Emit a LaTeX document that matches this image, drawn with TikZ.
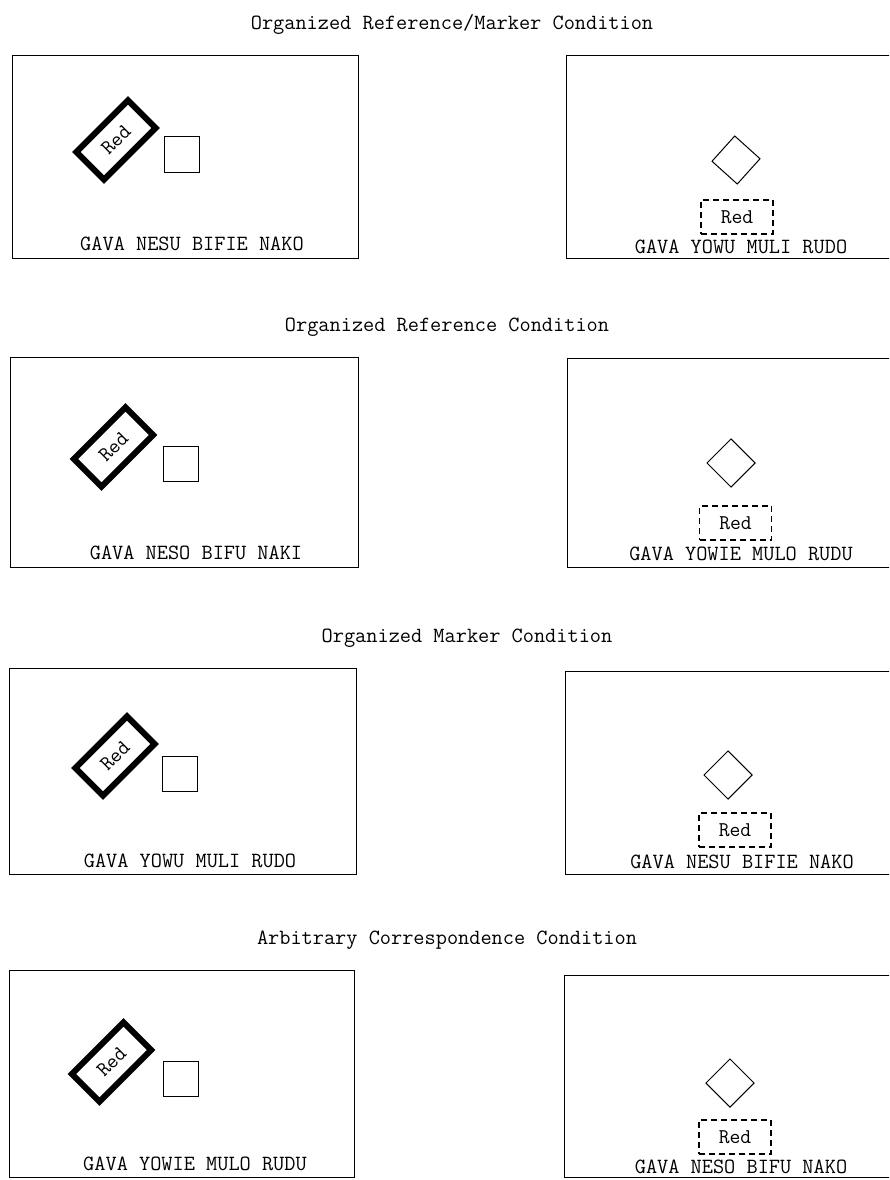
\documentclass[tikz,border=0pt]{standalone}
\begin{document}
\begin{tikzpicture}[x=1pt,y=-1pt,
  txt/.style={font=\fontsize{21.7}{26}\selectfont\ttfamily, inner sep=0pt},
  panel/.style={draw, line width=1.3pt, inner sep=0pt, anchor=north west},
  redrect/.style={draw, line width=6pt, minimum width=73pt, minimum height=39pt, inner sep=0pt, rotate=45, font=\fontsize{21}{24}\selectfont\ttfamily},
  sq/.style={draw, line width=1pt, minimum size=35pt, inner sep=0pt},
  dia/.style={draw, line width=1pt, minimum size=34pt, inner sep=0pt, rotate=45},
  dbox/.style={draw, dash pattern=on 6pt off 4pt, line width=1.2pt, minimum width=72pt, minimum height=34pt, inner sep=0pt, font=\fontsize{21}{24}\selectfont\ttfamily}]
\useasboundingbox (0,0) rectangle (889,1180);
\clip (0,0) rectangle (889,1180);
\fill[white] (0,0) rectangle (889,1180);

% Row 1
\node[txt] (t1) at (452,24) {Organized Reference/Marker Condition};
\node[panel, minimum width=346pt, minimum height=203pt] (p1l) at (12,55) {};
\node[panel, minimum width=329pt, minimum height=203pt] (p1r) at (566,55) {};
\node[redrect] (r1) at (116,140) {Red};
\node[sq] (s1) at (181.5,154.5) {};
\node[txt] (l1l) at (192,244) {GAVA NESU BIFIE NAKO};
\node[dia, rotate=3] (d1) at (736,160) {};
\node[dbox] (b1) at (737,217) {Red};
\node[txt] (l1r) at (741,247) {GAVA YOWU MULI RUDO};

% Row 2
\node[txt] (t2) at (447,327) {Organized Reference Condition};
\node[panel, minimum width=348pt, minimum height=210pt] (p2l) at (10,357) {};
\node[panel, minimum width=328pt, minimum height=209pt] (p2r) at (567,358) {};
\node[redrect] (r2) at (113.5,447) {Red};
\node[sq] (s2) at (180.5,464) {};
\node[txt] (l2l) at (196,553) {GAVA NESO BIFU NAKI};
\node[dia] (d2) at (731,463) {};
\node[dbox] (b2) at (735.5,523) {Red};
\node[txt] (l2r) at (741,554) {GAVA YOWIE MULO RUDU};

% Row 3
\node[txt] (t3) at (467,638) {Organized Marker Condition};
\node[panel, minimum width=347pt, minimum height=206pt] (p3l) at (9,668) {};
\node[panel, minimum width=330pt, minimum height=203pt] (p3r) at (565,671) {};
\node[redrect] (r3) at (115,756) {Red};
\node[sq] (s3) at (179.5,774) {};
\node[txt] (l3l) at (190,861) {GAVA YOWU MULI RUDO};
\node[dia] (d3) at (728,775) {};
\node[dbox] (b3) at (735,830) {Red};
\node[txt] (l3r) at (742,862) {GAVA NESU BIFIE NAKO};

% Row 4
\node[txt] (t4) at (447,940) {Arbitrary Correspondence Condition};
\node[panel, minimum width=345pt, minimum height=207pt] (p4l) at (9,970) {};
\node[panel, minimum width=331pt, minimum height=202pt] (p4r) at (564,975) {};
\node[redrect] (r4) at (111.5,1062) {Red};
\node[sq] (s4) at (180.5,1079) {};
\node[txt] (l4l) at (195,1164) {GAVA YOWIE MULO RUDU};
\node[dia] (d4) at (730,1083) {};
\node[dbox] (b4) at (735,1137) {Red};
\node[txt] (l4r) at (741,1167) {GAVA NESO BIFU NAKO};
\end{tikzpicture}
\end{document}
